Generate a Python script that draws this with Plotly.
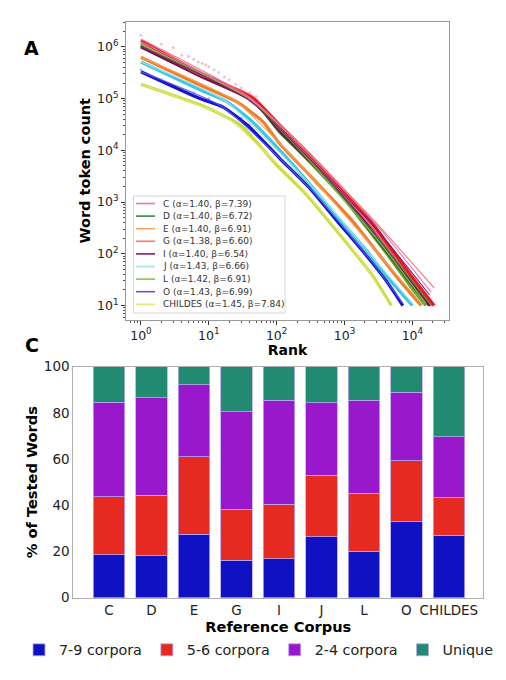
import plotly.graph_objects as go

W, H = 506, 680

# ---------------- Panel A data ----------------
corpora = ["C", "D", "E", "G", "I", "J", "L", "O", "CHILDES"]
alphas = [1.40, 1.40, 1.40, 1.38, 1.40, 1.43, 1.42, 1.43, 1.45]
betas = [7.39, 6.72, 6.91, 6.60, 6.54, 6.66, 6.91, 6.99, 7.84]

# observed rank/frequency curves (thick lines)
rank_C = [1, 7.4, 45, 110, 316, 1000, 2340, 4570, 10000, 20000]
count_C = [1.2e6, 3.0e5, 1.05e5, 2.8e4, 7200, 1400, 400, 126, 32, 10]
rank_D = [1, 7.4, 45, 110, 316, 1000, 1780, 4570, 10000, 17800]
count_D = [1.05e6, 2.8e5, 9.3e4, 2.3e4, 6000, 1200, 457, 95, 25, 10]
rank_E = [1, 7.4, 25, 63, 110, 316, 1260, 3160, 6310, 13500]
count_E = [6.3e5, 1.82e5, 8.9e4, 3.55e4, 1.35e4, 3160, 457, 100, 32, 10]
rank_G = [1, 7.4, 45, 110, 316, 1000, 2340, 4570, 10000, 20900]
count_G = [1.32e6, 3.16e5, 1.0e5, 3.1e4, 7900, 1600, 460, 140, 35, 10]
rank_I = [1, 7.4, 45, 110, 316, 1000, 2000, 4570, 10000, 18600]
count_I = [1.0e6, 2.75e5, 9.1e4, 2.5e4, 6300, 1260, 436, 105, 27.5, 10]
rank_J = [1, 7.4, 17.8, 40, 110, 316, 850, 2000, 3980, 10000]
count_J = [5.1e5, 1.48e5, 8.9e4, 4.0e4, 1.02e4, 2140, 457, 126, 40, 10]
rank_L = [1, 7.4, 45, 110, 316, 1000, 1780, 4570, 10000, 15800]
count_L = [1.12e6, 2.95e5, 9.5e4, 2.4e4, 5750, 1120, 436, 87, 21, 10]
rank_O = [1, 7.4, 16, 40, 110, 316, 794, 2000, 3980, 7240]
count_O = [3.3e5, 1.0e5, 6.9e4, 2.8e4, 7100, 1780, 417, 100, 32, 10]
rank_CH = [1, 7.4, 11.2, 28.8, 110, 251, 562, 1260, 2510, 4900]
count_CH = [1.9e5, 7.6e4, 6.0e4, 3.1e4, 4570, 1585, 457, 126, 40, 10]

# fitted curves (thin lines)
fit_rank_C = [1, 40, 316, 3160, 19000]
fit_count_C = [1.26e6, 1.0e5, 7900, 330, 18]
fit_rank_D = [1, 40, 316, 3160, 17800]
fit_count_D = [1.05e6, 9.3e4, 6300, 200, 11]
fit_rank_E = [1, 25, 316, 3160, 13500]
fit_count_E = [6.3e5, 8.9e4, 3160, 100, 11]
fit_rank_G = [1, 40, 316, 3160, 20900]
fit_count_G = [1.41e6, 1.05e5, 8300, 355, 22]
fit_rank_I = [1, 40, 316, 3160, 18000]
fit_count_I = [1.0e6, 9.1e4, 6600, 270, 16]
fit_rank_J = [1, 17.8, 316, 3160, 10000]
fit_count_J = [5.1e5, 8.9e4, 2140, 63, 11]
fit_rank_L = [1, 40, 316, 3160, 15800]
fit_count_L = [1.12e6, 9.5e4, 6000, 180, 11]
fit_rank_O = [1, 16, 316, 2510, 7240]
fit_count_O = [3.3e5, 6.9e4, 1780, 71, 11]
fit_rank_CH = [1, 11.2, 20, 251, 2000, 4470]
fit_count_CH = [1.9e5, 6.0e4, 4.0e4, 1700, 60, 11]

# raw top-rank points (faint dots)
dot_rank_C = [1, 2, 3, 4, 5, 6, 7, 8, 9, 10, 12, 14, 17, 20, 25, 30, 40, 50]
dot_count_C = [1.68e6, 1.12e6, 9.7e5, 6.9e5, 6.6e5, 5.75e5, 5.1e5, 4.8e5, 4.5e5,
               4.1e5, 3.6e5, 3.2e5, 2.6e5, 2.3e5, 1.9e5, 1.6e5, 1.3e5, 1.1e5]
dot_rank_O = [1, 2, 4, 6, 10, 15, 20, 30, 40]
dot_count_O = [3.6e5, 2.3e5, 1.5e5, 1.3e5, 1.0e5, 7.0e4, 5.5e4, 4.2e4, 3.2e4]

x_tickvals = [1, 10, 100, 1000, 10000]
x_ticktext = ["10<sup>0</sup>", "10<sup>1</sup>", "10<sup>2</sup>", "10<sup>3</sup>", "10<sup>4</sup>"]
y_tickvals = [10, 100, 1000, 10000, 100000, 1000000]
y_ticktext = ["10<sup>1</sup>", "10<sup>2</sup>", "10<sup>3</sup>", "10<sup>4</sup>",
              "10<sup>5</sup>", "10<sup>6</sup>"]

# ---------------- Panel C data ----------------
ref_corpus = ["C", "D", "E", "G", "I", "J", "L", "O", "CHILDES"]
pct_7_9 = [18.5, 18.2, 27.4, 16.2, 16.9, 26.4, 20.1, 32.9, 27.1]
pct_5_6 = [25.2, 26.2, 33.6, 22.0, 23.6, 26.6, 25.1, 26.3, 16.2]
pct_2_4 = [41.0, 42.2, 31.1, 42.3, 44.9, 31.4, 40.2, 29.7, 26.4]
pct_unique = [15.3, 13.4, 7.9, 19.5, 14.6, 15.6, 14.6, 11.1, 30.3]
bar_series_names = ["7-9 corpora", "5-6 corpora", "2-4 corpora", "Unique"]
y2_ticks = [0, 20, 40, 60, 80, 100]

# ---------------- styles ----------------
thick_color = {"C": "#ee6b8f", "D": "#2e6b2e", "E": "#f07d2a", "G": "#e41a1c",
               "I": "#7a1048", "J": "#3ec6e0", "L": "#6aa832", "O": "#1414d2",
               "CHILDES": "#c8dc3c"}
fit_color = {"C": "#e377c2", "D": "#3d8b3d", "E": "#f5a25d", "G": "#ef7a72",
             "I": "#8a1a5e", "J": "#9ee3ee", "L": "#8cc34f", "O": "#5a5ad6",
             "CHILDES": "#e6e67a"}
bar_colors = ["#1111c4", "#e62a22", "#9a18cc", "#218a70"]
FONT = "DejaVu Sans"

data_lines = {"C": (rank_C, count_C), "D": (rank_D, count_D), "E": (rank_E, count_E),
              "G": (rank_G, count_G), "I": (rank_I, count_I), "J": (rank_J, count_J),
              "L": (rank_L, count_L), "O": (rank_O, count_O), "CHILDES": (rank_CH, count_CH)}
fit_lines = {"C": (fit_rank_C, fit_count_C), "D": (fit_rank_D, fit_count_D),
             "E": (fit_rank_E, fit_count_E), "G": (fit_rank_G, fit_count_G),
             "I": (fit_rank_I, fit_count_I), "J": (fit_rank_J, fit_count_J),
             "L": (fit_rank_L, fit_count_L), "O": (fit_rank_O, fit_count_O),
             "CHILDES": (fit_rank_CH, fit_count_CH)}

fig = go.Figure()

# faint dots
fig.add_trace(go.Scatter(x=dot_rank_C, y=dot_count_C, mode="markers",
                         marker=dict(size=3, color="#e890b8", opacity=0.55),
                         showlegend=False, xaxis="x", yaxis="y"))
fig.add_trace(go.Scatter(x=dot_rank_O, y=dot_count_O, mode="markers",
                         marker=dict(size=3, color="#8c8cf0", opacity=0.55),
                         showlegend=False, xaxis="x", yaxis="y"))

draw_order = ["CHILDES", "O", "J", "E", "L", "D", "I", "C", "G"]
for name in draw_order:
    r, c = data_lines[name]
    fig.add_trace(go.Scatter(x=r, y=c, mode="lines",
                             line=dict(color=thick_color[name], width=3.2, shape="spline", smoothing=0.6),
                             showlegend=False, xaxis="x", yaxis="y"))
for name in draw_order:
    r, c = fit_lines[name]
    fig.add_trace(go.Scatter(x=r, y=c, mode="lines",
                             line=dict(color=fit_color[name], width=1.1, shape="spline", smoothing=0.5),
                             showlegend=False, xaxis="x", yaxis="y"))

# stacked bars
for vals, nm, col in zip([pct_7_9, pct_5_6, pct_2_4, pct_unique], bar_series_names, bar_colors):
    fig.add_trace(go.Bar(x=ref_corpus, y=vals, name=nm, width=0.745,
                         marker=dict(color=col, line=dict(color="#b8a8f0", width=0.8)),
                         xaxis="x2", yaxis="y2", legend="legend2"))

# ---------------- manual legend for panel A ----------------
def px_x(v):
    return v / W

def px_y(v):
    return 1 - v / H

shapes = [dict(type="rect", xref="paper", yref="paper",
               x0=px_x(133.5), x1=px_x(285), y0=px_y(313), y1=px_y(196),
               line=dict(color="#d6d6d6", width=1), fillcolor="rgba(255,255,255,0.85)", layer="above")]
annotations = []
row0, step = 203.5, 12.6
for i, name in enumerate(corpora):
    yc = row0 + step * i
    shapes.append(dict(type="line", xref="paper", yref="paper",
                       x0=px_x(136), x1=px_x(155), y0=px_y(yc), y1=px_y(yc),
                       line=dict(color=fit_color[name], width=1.6), layer="above"))
    annotations.append(dict(xref="paper", yref="paper", x=px_x(161), y=px_y(yc),
                            xanchor="left", yanchor="middle", showarrow=False,
                            text=f"{name} (\u03b1={alphas[i]:.2f}, \u03b2={betas[i]:.2f})",
                            font=dict(family=FONT, size=9, color="#333333")))

annotations.append(dict(xref="paper", yref="paper", x=px_x(32), y=px_y(48), showarrow=False,
                        xanchor="center", yanchor="middle",
                        text="<b>A</b>", font=dict(family=FONT, size=19, color="black")))
annotations.append(dict(xref="paper", yref="paper", x=px_x(32), y=px_y(345), showarrow=False,
                        xanchor="center", yanchor="middle",
                        text="<b>C</b>", font=dict(family=FONT, size=19, color="black")))

axis_common = dict(showline=True, mirror=True, linewidth=1,
                   tickcolor="#333333", showgrid=False,
                   zeroline=False, automargin=False)

fig.update_layout(
    width=W, height=H,
    margin=dict(l=0, r=0, t=0, b=0),
    paper_bgcolor="white", plot_bgcolor="white",
    font=dict(family=FONT, color="#222222"),
    barmode="stack",
    showlegend=True,
    xaxis=dict(type="log", range=[-0.22, 4.54], domain=[126 / W, 449 / W], anchor="y",
               tickmode="array", tickvals=x_tickvals, ticktext=x_ticktext,
               ticks="outside", ticklen=4, linecolor="#9a9a9a",
               tickfont=dict(size=12.5, color="#222222"),
               minor=dict(ticks="outside", ticklen=2.5, tickcolor="#555555", dtick="D1"),
               title=dict(text="<b>Rank</b>", font=dict(size=14, color="black"), standoff=0),
               **axis_common),
    yaxis=dict(type="log", range=[0.73, 6.48], domain=[1 - 319.5 / H, 1 - 22 / H], anchor="x",
               tickmode="array", tickvals=y_tickvals, ticktext=y_ticktext,
               ticks="outside", ticklen=4, linecolor="#9a9a9a",
               tickfont=dict(size=12.5, color="#222222"),
               minor=dict(ticks="outside", ticklen=2.5, tickcolor="#555555", dtick="D1"),
               title=dict(text="<b>Word token count</b>", font=dict(size=14.5, color="black"), standoff=2),
               **axis_common),
    xaxis2=dict(type="category", range=[-0.84, 8.81], domain=[73.3 / W, 483.3 / W], anchor="y2",
                ticks="", linecolor="#b0b0b0",
                tickfont=dict(size=13.5, color="#222222"),
                title=dict(text="<b>Reference Corpus</b>", font=dict(size=14.6, color="black"), standoff=0),
                **axis_common),
    yaxis2=dict(range=[0, 100], domain=[1 - 597.7 / H, 1 - 366.7 / H], anchor="x2",
                tickmode="array", tickvals=y2_ticks, ticks="", linecolor="#b0b0b0",
                tickfont=dict(size=13.5, color="#222222"),
                title=dict(text="<b>% of Tested Words</b>", font=dict(size=14.6, color="black"), standoff=2),
                **axis_common),
    legend2=dict(orientation="h", x=19 / W, xanchor="left", y=1 - 650 / H, yanchor="middle",
                 font=dict(family=FONT, size=14.3, color="#222222"), traceorder="normal",
                 bgcolor="rgba(0,0,0,0)", borderwidth=0),
    shapes=shapes,
    annotations=annotations,
)

fig.write_html("out.html", config={"displayModeBar": False},
               post_script="document.body.style.margin='0';")
